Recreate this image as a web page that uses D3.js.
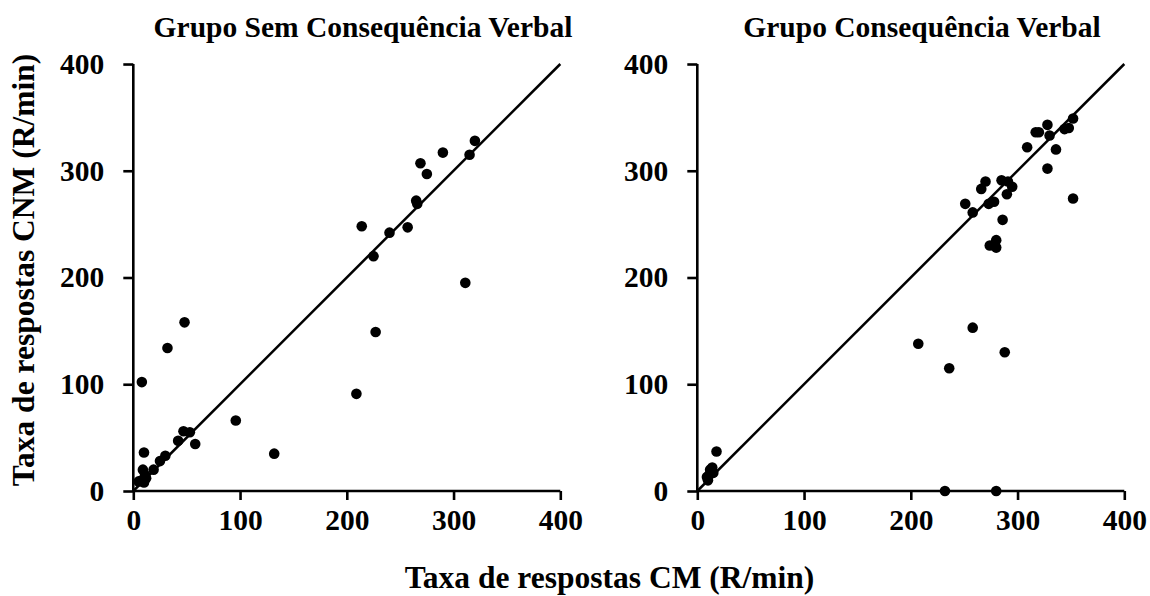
<!DOCTYPE html>
<html>
<head>
<meta charset="utf-8">
<script src="https://cdn.jsdelivr.net/npm/d3@7"></script>
<style>
  body { margin: 0; background: #fff; }
  text { font-family: "Liberation Serif", "Times New Roman", serif; font-weight: bold; fill: #000; }
</style>
</head>
<body>
<svg></svg>
<script>
// Define variables
const width = 1150;
const height = 596;

const ticks = [0, 100, 200, 300, 400];

// Grupo Sem Consequência Verbal (CM, CNM)
const semX = [214, 225, 240, 257, 265, 266, 269, 275, 290, 315, 320, 311,
              8, 10, 96, 132, 47, 53, 42, 58, 30, 25, 19, 9, 11, 8, 5, 12, 10,
              48, 32, 227, 209];
const semY = [248, 220, 242, 247, 272, 269, 307, 297, 317, 315, 328, 195,
              102, 36, 66, 35, 56, 55, 47, 44, 33, 28, 20, 20, 15, 10, 9, 12, 8,
              158, 134, 149, 91];

// Grupo Consequência Verbal (CM, CNM)
const conX = [251, 258, 266, 270, 273, 278, 285, 291, 295, 290, 286, 280, 274, 280,
              309, 317, 320, 328, 330, 336, 328, 344, 348, 352, 352,
              207, 258, 236, 288, 232, 280,
              18, 12, 14, 9, 10, 15, 11];
const conY = [269, 261, 283, 290, 269, 271, 291, 290, 285, 278, 254, 235, 230, 228,
              322, 336, 336, 343, 333, 320, 302, 339, 340, 349, 274,
              138, 153, 115, 130, 0, 0,
              37, 20, 22, 13, 10, 17, 15];

const panels = [
    {title: 'Grupo Sem Consequência Verbal', xs: semX, ys: semY, left: 133.3, titleX: 363},
    {title: 'Grupo Consequência Verbal', xs: conX, ys: conY, left: 697.3, titleX: 922}
];

const side = 427;
const plotTop = 64;

const svg = d3.select('svg')
                .attr('width', width)
                .attr('height', height)

let yScale = d3.scaleLinear().domain([0, 400]).range([plotTop + side, plotTop])

let drawPanel = (p) => {
    let xScale = d3.scaleLinear().domain([0, 400]).range([p.left, p.left + side])
    let g = svg.append('g')

    let xAxis = d3.axisBottom(xScale).tickValues(ticks).tickSize(9).tickPadding(9)
    let gx = g.append('g')
        .attr('transform', 'translate(0,' + yScale(0) + ')')
        .call(xAxis)

    let yAxis = d3.axisLeft(yScale).tickValues(ticks).tickSize(10).tickPadding(19)
    let gy = g.append('g')
        .attr('transform', 'translate(' + p.left + ',0)')
        .call(yAxis)

    for (let ax of [gx, gy]) {
        ax.select('.domain').attr('stroke', '#000').attr('stroke-width', 2.6)
        ax.selectAll('.tick line').attr('stroke', '#000').attr('stroke-width', 2.6)
        ax.selectAll('.tick text')
            .attr('fill', '#000')
            .style('font-size', '29.5px')
            .style('font-family', '"Liberation Serif", serif')
            .style('font-weight', 'bold')
    }
    // flat domain ends
    gx.select('.domain').attr('d', 'M' + p.left + ',0H' + (p.left + side))
    gy.select('.domain').attr('d', 'M0,' + yScale(400) + 'V' + yScale(0))

    // identity line
    g.append('line')
        .attr('x1', xScale(0)).attr('y1', yScale(0))
        .attr('x2', xScale(400)).attr('y2', yScale(400))
        .attr('stroke', '#000')
        .attr('stroke-width', 2.5)

    g.selectAll('circle')
        .data(p.xs.map((x, i) => [x, p.ys[i]]))
        .enter()
        .append('circle')
        .attr('cx', d => xScale(d[0]))
        .attr('cy', d => yScale(d[1]))
        .attr('r', 5.3)
        .attr('fill', '#000')

    g.append('text')
        .attr('x', p.titleX)
        .attr('y', 37)
        .attr('text-anchor', 'middle')
        .style('font-size', '29.5px')
        .text(p.title)
}

panels.forEach(drawPanel)

// Axis titles
svg.append('text')
    .attr('x', 609.5)
    .attr('y', 588)
    .attr('text-anchor', 'middle')
    .style('font-size', '31.5px')
    .text('Taxa de respostas CM (R/min)')

svg.append('text')
    .attr('transform', 'translate(34,270) rotate(-90)')
    .attr('text-anchor', 'middle')
    .style('font-size', '31.5px')
    .text('Taxa de respostas CNM (R/min)')
</script>
</body>
</html>
